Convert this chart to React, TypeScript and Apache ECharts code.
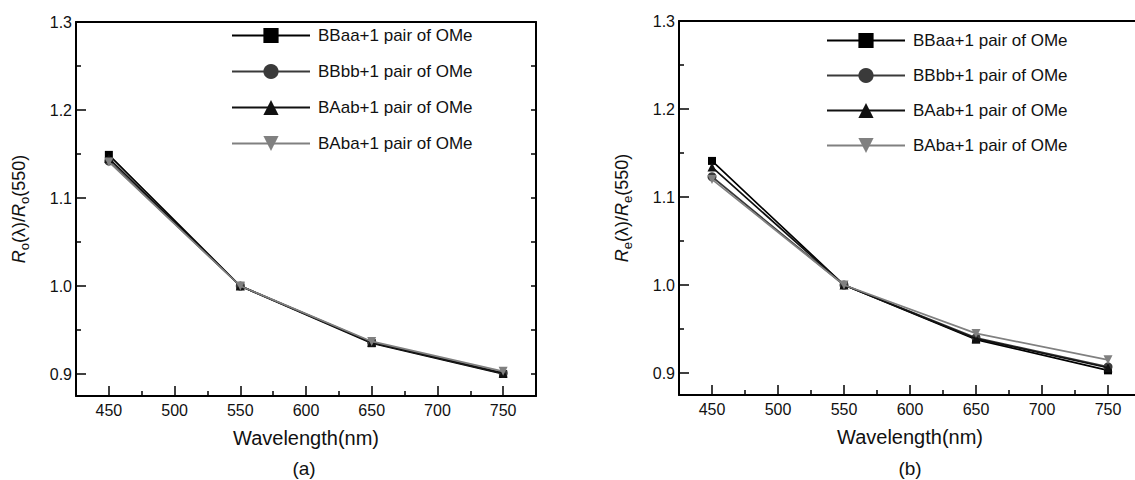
import React, { useEffect, useRef } from "react";
import * as echarts from "echarts";

const wavelengths = [450, 550, 650, 750];
const seriesNames = [
  "BBaa+1 pair of OMe",
  "BBbb+1 pair of OMe",
  "BAab+1 pair of OMe",
  "BAba+1 pair of OMe",
];
// panel (a): R_o(λ)/R_o(550)
const roBBaa = [1.149, 1.0, 0.935, 0.9];
const roBBbb = [1.142, 1.0, 0.936, 0.901];
const roBAab = [1.145, 1.0, 0.936, 0.901];
const roBAba = [1.141, 1.0, 0.937, 0.903];
// panel (b): R_e(λ)/R_e(550)
const reBBaa = [1.141, 1.0, 0.938, 0.903];
const reBBbb = [1.123, 1.0, 0.94, 0.907];
const reBAab = [1.134, 1.0, 0.939, 0.906];
const reBAba = [1.12, 1.0, 0.945, 0.915];

const xMajor = [450, 500, 550, 600, 650, 700, 750];
const xMinor = [475, 525, 575, 625, 675, 725];
const yMajor = [0.9, 1.0, 1.1, 1.2, 1.3];
const yMinor = [0.95, 1.05, 1.15, 1.25];

const colors = ["#000000", "#3a3a3a", "#111111", "#808080"];
const symbols = ["rect", "circle", "triangle", "triangle"];
const rotations = [0, 0, 0, 180];

const FONT = "Liberation Sans, Arial, sans-serif";

export default function App() {
  const ref = useRef<HTMLDivElement>(null);
  useEffect(() => {
    if (!ref.current) return;
    const chart = echarts.init(ref.current, null, { renderer: "svg" });
    const lineC = "#000";
    const grids = [
      { left: 76, top: 22, width: 460, height: 374, outerBoundsMode: "none", containLabel: false },
      { left: 679, top: 21, width: 462, height: 374, outerBoundsMode: "none", containLabel: false },
    ];
    const xAxes: any[] = [];
    const yAxes: any[] = [];
    [0, 1].forEach((g) => {
      xAxes.push({
        type: "value", gridIndex: g, min: 425, max: 775, position: "bottom",
        axisLine: { show: true, lineStyle: { color: lineC, width: 2 } },
        axisTick: { show: true, inside: true, length: 10, lineStyle: { color: lineC, width: 1.5 }, customValues: xMajor },
        axisLabel: { show: true, customValues: xMajor, fontSize: 16, color: "#111", fontFamily: FONT, margin: 6 },
        splitLine: { show: false },
        name: "Wavelength(nm)", nameLocation: "middle", nameGap: 32,
        nameTextStyle: { fontSize: 20, color: "#111", fontFamily: FONT },
      });
      xAxes.push({
        type: "value", gridIndex: g, min: 425, max: 775, position: "bottom",
        axisLine: { show: false },
        axisTick: { show: true, inside: true, length: 5, lineStyle: { color: lineC, width: 1.5 }, customValues: xMinor },
        axisLabel: { show: false }, splitLine: { show: false },
      });
      xAxes.push({
        type: "value", gridIndex: g, min: 425, max: 775, position: "top",
        axisLine: { show: true, lineStyle: { color: lineC, width: 2 } },
        axisTick: { show: false }, axisLabel: { show: false }, splitLine: { show: false },
      });
      const sub = g === 0 ? "o" : "e";
      yAxes.push({
        type: "value", gridIndex: g, min: 0.875, max: 1.3, position: "left",
        axisLine: { show: true, lineStyle: { color: lineC, width: 2 } },
        axisTick: { show: true, inside: true, length: 10, lineStyle: { color: lineC, width: 1.5 }, customValues: [0.9, 1.0, 1.1, 1.2] },
        axisLabel: { show: true, customValues: yMajor, fontSize: 16, color: "#111", fontFamily: FONT, margin: 4, formatter: (v: number) => v.toFixed(1) },
        splitLine: { show: false },
        name: `{i|R}{s|${sub}}{n|(λ)/}{i|R}{s|${sub}}{n|(550)}`,
        nameLocation: "middle", nameGap: 45,
        nameTextStyle: {
          fontSize: 18, color: "#111", fontFamily: FONT,
          rich: {
            i: { fontStyle: "italic", fontSize: 18, fontFamily: FONT, color: "#111", lineHeight: 20 },
            n: { fontSize: 18, fontFamily: FONT, color: "#111", lineHeight: 20 },
            s: { fontSize: 13, fontFamily: FONT, color: "#111", verticalAlign: "bottom", lineHeight: 25 },
          },
        },
      });
      yAxes.push({
        type: "value", gridIndex: g, min: 0.875, max: 1.3, position: "left",
        axisLine: { show: false },
        axisTick: { show: true, inside: true, length: 5, lineStyle: { color: lineC, width: 1.5 }, customValues: yMinor },
        axisLabel: { show: false }, splitLine: { show: false },
      });
      yAxes.push({
        type: "value", gridIndex: g, min: 0.875, max: 1.3, position: "right",
        axisLine: { show: true, lineStyle: { color: lineC, width: 2 } },
        axisTick: { show: true, inside: true, length: 5, lineStyle: { color: lineC, width: 1.5 }, customValues: [0.9, 0.95, 1.0, 1.05, 1.1, 1.15, 1.2, 1.25] },
        axisLabel: { show: false }, splitLine: { show: false },
      });
    });

    const dataA = [roBBaa, roBBbb, roBAab, roBAba];
    const dataB = [reBBaa, reBBbb, reBAab, reBAba];
    const series: any[] = [];
    [dataA, dataB].forEach((set, g) => {
      set.forEach((vals, k) => {
        series.push({
          type: "line", name: seriesNames[k],
          xAxisIndex: g * 3, yAxisIndex: g * 3,
          data: wavelengths.map((w, j) => [w, vals[j]]),
          symbol: symbols[k], symbolSize: k === 0 ? 8 : 9, symbolRotate: rotations[k],
          lineStyle: { color: colors[k], width: 1.7 },
          itemStyle: { color: colors[k] },
          z: 2 + k,
        });
      });
    });

    const legendBase = {
      orient: "vertical", itemWidth: 78, itemHeight: 19, padding: 0,
      textStyle: { fontSize: 17, color: "#111", fontFamily: FONT, padding: [0, 0, 0, 3] },
      data: seriesNames, selectedMode: false,
    };

    chart.setOption({
      animation: false,
      backgroundColor: "#fff",
      grid: grids,
      xAxis: xAxes,
      yAxis: yAxes,
      legend: [
        { ...legendBase, left: 231, top: 27, itemGap: 19 },
        { ...legendBase, left: 826, top: 32, itemGap: 18 },
      ],
      graphic: [
        { type: "text", x: 304, y: 468, style: { text: "(a)", fontSize: 19, fill: "#111", fontFamily: FONT, align: "center", verticalAlign: "middle" } },
        { type: "text", x: 910, y: 468, style: { text: "(b)", fontSize: 19, fill: "#111", fontFamily: FONT, align: "center", verticalAlign: "middle" } },
      ],
      series,
    });
    return () => chart.dispose();
  }, []);
  return <div ref={ref} style={{ position: "absolute", left: 0, top: 0, width: 1135, height: 480 }} />;
}
